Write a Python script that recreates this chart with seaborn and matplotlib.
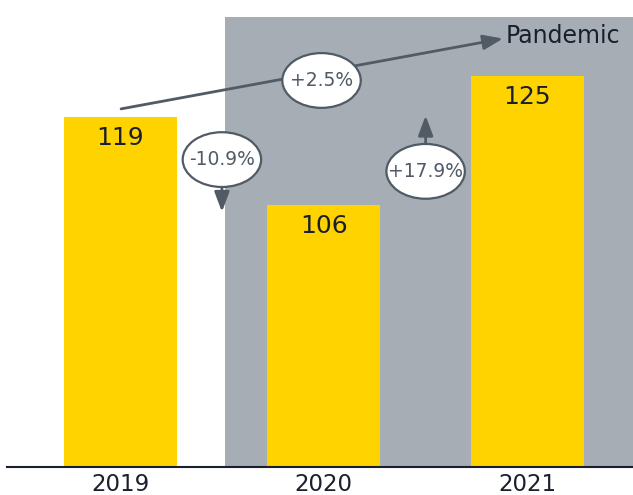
import matplotlib
matplotlib.use("Agg")
import matplotlib.pyplot as plt
from matplotlib.patches import Ellipse
import seaborn as sns

# data
years = ["2019", "2020", "2021"]
values = [119, 106, 125]
changes = ["-10.9%", "+17.9%"]          # year-over-year changes
total_change = "+2.5%"                  # 2019 -> 2021
shade_label = "Pandemic"

yellow = "#FFD300"
grey_bg = "#A7ADB4"
dark = "#1A1F2E"
arrow_col = "#505B66"

sns.set_style("white")
plt.rcParams["font.family"] = ["DejaVu Sans"]

fig = plt.figure(figsize=(6.33, 4.95), dpi=100)
ax = fig.add_axes([7 / 633, 27.7 / 495, 626 / 633, 467.3 / 495])

sns.barplot(x=years, y=values, color=yellow, width=0.555, saturation=1,
            linewidth=0, edgecolor=yellow, ax=ax)

ax.set_xlim(-0.555, 2.518)
ax.set_ylim(67.2, 136.3)

# shaded pandemic period
ax.axvspan(0.515, 2.6, ymin=0, ymax=(467.3 - 16.7) / 467.3, color=grey_bg, zorder=0, lw=0)

# value labels inside bars
for i, v in enumerate(values):
    ax.annotate(str(v), xy=(i, v), xytext=(0, -15), textcoords="offset points",
                ha="center", va="center", fontsize=18, color=dark)

arrow_kw = dict(arrowstyle="-|>,head_length=0.8,head_width=0.3", color=arrow_col,
                lw=2, mutation_scale=15, shrinkA=0, shrinkB=0)

def bubble(x, y, txt):
    e = Ellipse((x, y), width=0.385, height=8.1, facecolor="white",
                edgecolor=arrow_col, lw=1.6, zorder=5)
    ax.add_patch(e)
    ax.text(x, y, txt, ha="center", va="center", fontsize=13.5, color=arrow_col, zorder=6)

# long arrow 2019 -> Pandemic
ax.annotate("", xy=(1.88, 130.6), xytext=(0.005, 120.2), arrowprops=arrow_kw, zorder=4)
ax.text(1.895, 131.0, shade_label, ha="left", va="center", fontsize=17, color=dark)
bubble(0.989, 124.4, total_change)

# drop 2019 -> 2020
ax.annotate("", xy=(0.5, 104.97), xytext=(0.5, 108.7), arrowprops=arrow_kw, zorder=4)
bubble(0.5, 112.7, changes[0])

# rise 2020 -> 2021
ax.annotate("", xy=(1.5, 119.2), xytext=(1.5, 115.0), arrowprops=arrow_kw, zorder=4)
bubble(1.5, 110.96, changes[1])

for s in ["top", "left", "right"]:
    ax.spines[s].set_visible(False)
ax.spines["bottom"].set_color(dark)
ax.spines["bottom"].set_linewidth(1.5)
ax.set_yticks([])
ax.set_xlabel("")
ax.set_ylabel("")
ax.tick_params(axis="x", length=0, pad=4, labelsize=16.5, labelcolor=dark)

fig.savefig("out.png", dpi=100)
